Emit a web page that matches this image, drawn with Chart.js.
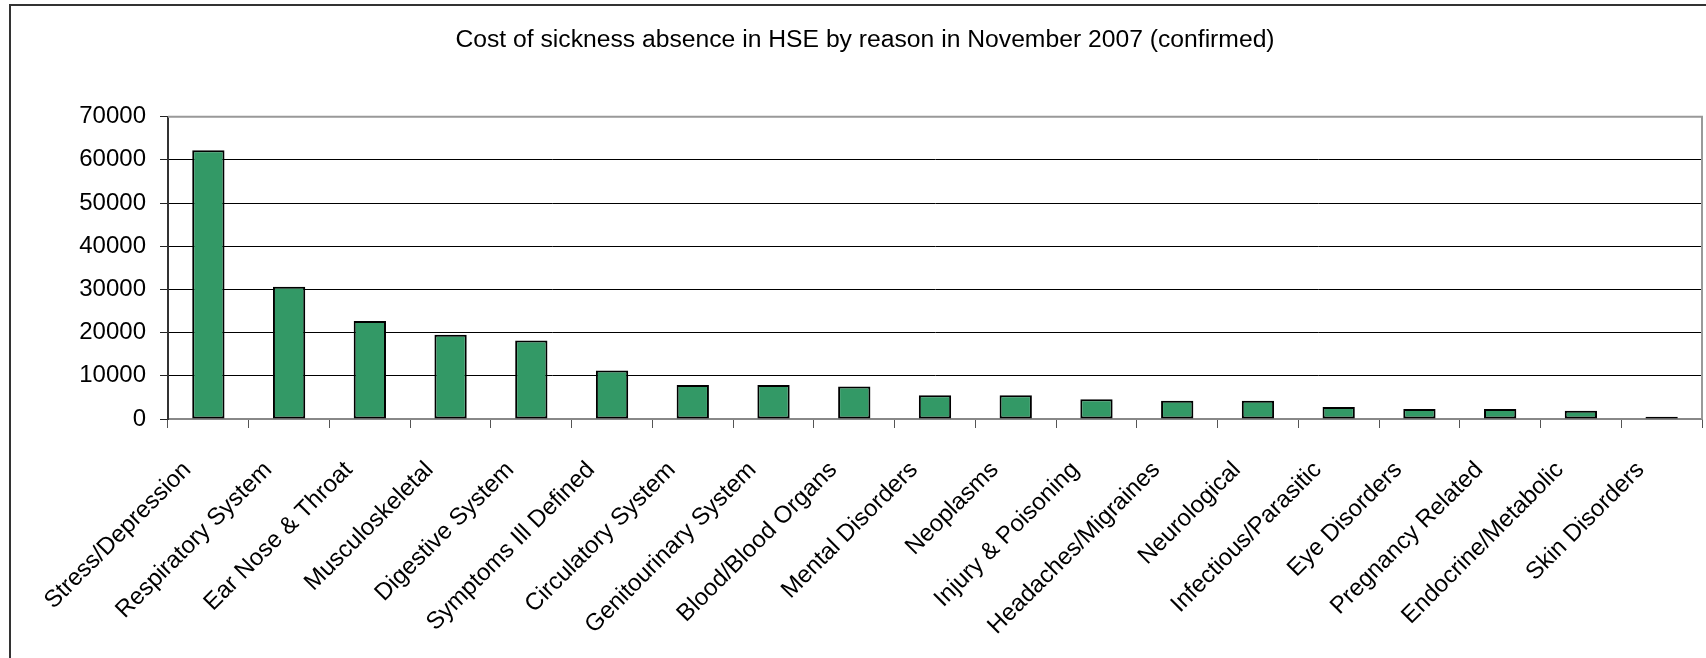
<!DOCTYPE html>
<html lang="en">
<head>
    <meta charset="UTF-8">
    <title>Cost of sickness absence in HSE</title>
    <style>
        html, body {
            margin: 0;
            padding: 0;
            background: #ffffff;
            overflow: hidden;
        }

        /* frame of the chart object, runs off the right and bottom edge */
        .frame {
            position: absolute;
            left: 9px;
            top: 4px;
            width: 1730px;
            height: 700px;
            border: 2px solid #333333;
        }

        /* canvas is a bit wider than the window so the title centres on the frame */
        .chart-box {
            position: absolute;
            left: 0;
            top: 0;
            width: 1730px;
            height: 658px;
        }
    </style>
    <script src="https://cdn.jsdelivr.net/npm/chart.js"></script>
</head>
<body>

    <div class="frame"></div>
    <div class="chart-box">
        <canvas id="myChart" width="1730" height="658"></canvas>
    </div>

    <script>
        // Categories and values
        const reasons = [
            'Stress/Depression', 'Respiratory System', 'Ear Nose & Throat', 'Musculoskeletal',
            'Digestive System', 'Symptoms Ill Defined', 'Circulatory System', 'Genitourinary System',
            'Blood/Blood Organs', 'Mental Disorders', 'Neoplasms', 'Injury & Poisoning',
            'Headaches/Migraines', 'Neurological', 'Infectious/Parasitic', 'Eye Disorders',
            'Pregnancy Related', 'Endocrine/Metabolic', 'Skin Disorders'
        ];
        const cost = [
            62200, 30600, 22700, 19500,
            18200, 11200, 7900, 7900,
            7500, 5500, 5500, 4600,
            4200, 4200, 2800, 2300,
            2300, 1900, 500
        ];
        const yTicks = [0, 10000, 20000, 30000, 40000, 50000, 60000, 70000];

        const font = "'Liberation Sans', Arial, sans-serif";

        // gray border on the top and right of the plot area
        const plotBorder = {
            id: 'plotBorder',
            afterDatasetsDraw(chart) {
                const { ctx, chartArea } = chart;
                ctx.save();
                ctx.strokeStyle = '#999999';
                ctx.lineWidth = 2;
                ctx.beginPath();
                ctx.moveTo(chartArea.left, chartArea.top);
                ctx.lineTo(chartArea.right, chartArea.top);
                ctx.lineTo(chartArea.right, chartArea.bottom);
                ctx.stroke();
                ctx.restore();
            }
        };

        const ctx = document.getElementById('myChart').getContext('2d');
        const myChart = new Chart(ctx, {
            type: 'bar',
            data: {
                labels: reasons,
                datasets: [{
                    data: cost,
                    backgroundColor: '#339966',
                    borderColor: '#000000',
                    borderWidth: 2,
                    borderSkipped: false,
                    barPercentage: 0.4,
                    categoryPercentage: 1.0
                }]
            },
            plugins: [plotBorder],
            options: {
                responsive: false,
                animation: false,
                layout: {
                    padding: { left: 0, right: 0, top: 0, bottom: 0 }
                },
                plugins: {
                    legend: { display: false },
                    tooltip: { enabled: false },
                    title: {
                        display: true,
                        text: 'Cost of sickness absence in HSE by reason in November 2007 (confirmed)',
                        color: '#000000',
                        font: { family: font, size: 24.7, weight: 'normal' },
                        padding: { top: 25, bottom: 62 }
                    }
                },
                scales: {
                    x: {
                        grid: {
                            offset: true,
                            drawOnChartArea: false,
                            drawTicks: true,
                            tickLength: 9,
                            tickColor: '#555555'
                        },
                        border: { color: '#888888', width: 2 },
                        ticks: {
                            color: '#000000',
                            font: { family: font, size: 24 },
                            maxRotation: 45,
                            minRotation: 45,
                            autoSkip: false,
                            padding: 28,
                            labelOffset: -21
                        },
                        afterFit(scale) {
                            scale.height = 239;
                        }
                    },
                    y: {
                        min: 0,
                        max: 70000,
                        afterBuildTicks(scale) {
                            scale.ticks = yTicks.map(v => ({ value: v }));
                        },
                        grid: {
                            color: c => (c.tick && (c.tick.value === 0 || c.tick.value === 70000)) ? '#999999' : '#000000',
                            lineWidth: 1,
                            tickLength: 8,
                            tickColor: '#222222'
                        },
                        border: { color: '#333333', width: 2 },
                        ticks: {
                            color: '#000000',
                            font: { family: font, size: 24 },
                            padding: 14,
                            callback: v => String(v)
                        },
                        afterFit(scale) {
                            scale.width = 168;
                        }
                    },
                    // empty right-hand axis, only keeps the plot off the canvas's extra width
                    yRight: {
                        position: 'right',
                        grid: { display: false },
                        border: { display: false },
                        ticks: { display: false },
                        afterFit(scale) {
                            scale.width = 28;
                        }
                    }
                }
            }
        });
    </script>

</body>
</html>
